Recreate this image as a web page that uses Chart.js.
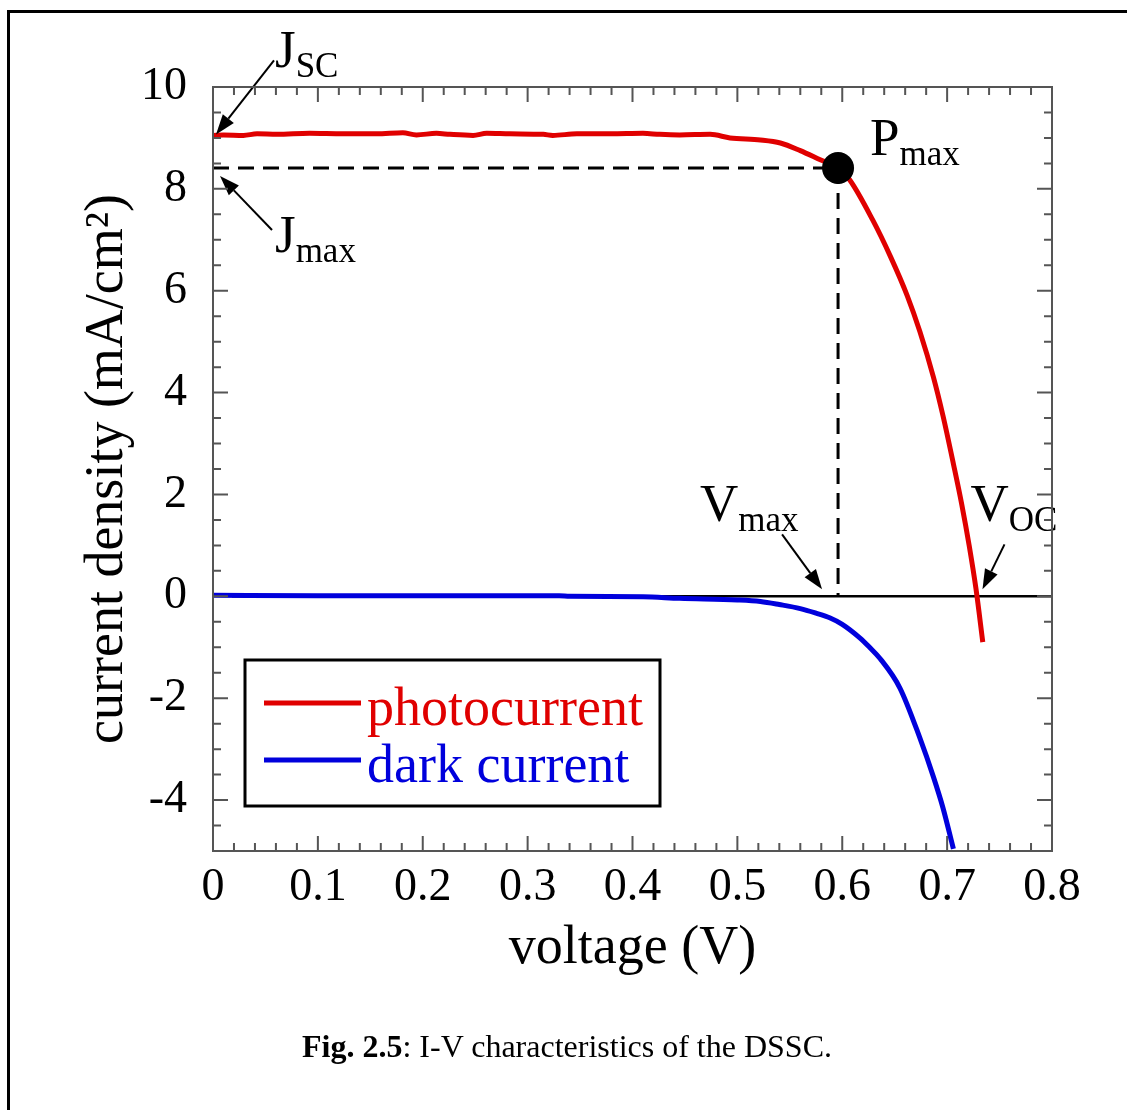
<!DOCTYPE html>
<html>
<head>
<meta charset="utf-8">
<title>I-V characteristics of the DSSC</title>
<script src="https://cdn.jsdelivr.net/npm/chart.js@4.4.1/dist/chart.umd.min.js"></script>
<style>
html,body{margin:0;padding:0;background:#fff;overflow:hidden}
#wrap{position:relative;width:1127px;height:1110px}
#frame{position:absolute;left:7px;top:10px;width:1300px;height:1300px;border:3px solid #000;box-sizing:border-box}
#chart{position:absolute;left:0;top:0}
#cap{position:absolute;left:0;width:1134px;top:1030px;text-align:center;font:32px/32px 'Liberation Serif',serif;color:#000}
</style>
</head>
<body>
<div id="wrap">
  <div id="frame"></div>
  <canvas id="chart" width="1127" height="1110"></canvas>
  <div id="cap"><b>Fig. 2.5</b>: I-V characteristics of the DSSC.</div>
</div>
<script>
/* ---------- data ---------- */
const photoV = [0,0.01,0.029,0.042,0.061,0.092,0.124,0.156,0.181,0.194,0.213,0.226,0.248,0.261,0.283,0.315,0.324,0.347,0.379,0.41,0.426,0.445,0.474,0.493,0.522,0.541,0.56,0.579,0.596,0.607,0.629,0.646,0.662,0.674,0.687,0.696,0.706,0.714,0.721,0.7275,0.734];
const photoJ = [9.05,9.06,9.05,9.08,9.07,9.09,9.08,9.08,9.1,9.06,9.09,9.07,9.05,9.09,9.08,9.07,9.05,9.08,9.08,9.09,9.07,9.06,9.07,9.0,8.96,8.9,8.75,8.57,8.41,8.18,7.39,6.67,5.9,5.2,4.3,3.55,2.6,1.8,1.0,0.15,-0.9];

const darkV = [0,0.1,0.2,0.33,0.34,0.41,0.445,0.5,0.522,0.54,0.56,0.575,0.588,0.6,0.617,0.626,0.636,0.655,0.674,0.687,0.696,0.706];
const darkJ = [0.02,0.01,0.01,0.01,0.0,-0.01,-0.04,-0.07,-0.1,-0.16,-0.24,-0.33,-0.42,-0.55,-0.82,-1.0,-1.22,-1.8,-2.78,-3.55,-4.15,-4.96];

const zeroLineV = [0.018,0.8];
const vMax = 0.596, jMax = 8.41;   // maximum power point
const vOc = 0.728;                 // open circuit voltage

const xTicks = [0,0.1,0.2,0.3,0.4,0.5,0.6,0.7,0.8];
const xTickLabels = ['0','0.1','0.2','0.3','0.4','0.5','0.6','0.7','0.8'];
const yTicks = [-4,-2,0,2,4,6,8,10];
const yTickLabels = ['-4','-2','0','2','4','6','8','10'];

const RED = '#e00000', BLUE = '#0000dc';
const SERIF = '"Liberation Serif", "Times New Roman", serif';
Chart.defaults.font.family = SERIF;
Chart.defaults.color = '#000';

const pts = (xs, ys) => xs.map((v,i)=>({x:v, y:ys[i]}));

/* ---------- frame with inward ticks on all four sides ---------- */
const frameTicks = {
  id:'frameTicks',
  afterDatasetsDraw(chart){
    const {ctx, chartArea:a, scales:{x,y}} = chart;
    ctx.save();
    ctx.strokeStyle='#555'; ctx.lineWidth=2;
    ctx.beginPath();
    for(let i=0;i<=40;i++){
      const px=x.getPixelForValue(i*0.02), L=i%5===0?15:8;
      ctx.moveTo(px,a.bottom); ctx.lineTo(px,a.bottom-L);
      ctx.moveTo(px,a.top); ctx.lineTo(px,a.top+L);
    }
    for(let i=0;i<=30;i++){
      const v=-5+i*0.5, py=y.getPixelForValue(v), L=(v%2===0)?15:8;
      ctx.moveTo(a.left,py); ctx.lineTo(a.left+L,py);
      ctx.moveTo(a.right,py); ctx.lineTo(a.right-L,py);
    }
    ctx.stroke();
    ctx.strokeRect(a.left,a.top,a.right-a.left,a.bottom-a.top);
    ctx.restore();
  }
};

/* ---------- arrows and subscripted labels ---------- */
function arrow(ctx,x0,y0,x1,y1){
  const ang=Math.atan2(y1-y0,x1-x0), L=20, W=7;
  const bx=x1-L*Math.cos(ang), by=y1-L*Math.sin(ang);
  ctx.beginPath(); ctx.moveTo(x0,y0); ctx.lineTo(bx,by); ctx.stroke();
  ctx.beginPath(); ctx.moveTo(x1,y1);
  ctx.lineTo(bx+W*Math.sin(ang), by-W*Math.cos(ang));
  ctx.lineTo(bx-W*Math.sin(ang), by+W*Math.cos(ang));
  ctx.closePath(); ctx.fill();
}
function subLabel(ctx,main,sub,x,y){
  ctx.font='53px '+SERIF; ctx.fillText(main,x,y);
  const w=ctx.measureText(main).width;
  ctx.font='35px '+SERIF; ctx.fillText(sub,x+w,y+10);
}
const annotations = {
  id:'annotations',
  afterDatasetsDraw(chart){
    const {ctx, scales:{x,y}} = chart;
    const P = (vx,vy)=>[x.getPixelForValue(vx), y.getPixelForValue(vy)];
    const [jsx,jsy] = P(photoV[0],photoJ[0]);
    const [jmx,jmy] = P(0,jMax);
    const [pmx,pmy] = P(vMax,jMax);
    const [vmx,vmy] = P(vMax,0);
    const [vox,voy] = P(vOc,0);
    ctx.save();
    ctx.fillStyle='#000'; ctx.strokeStyle='#000'; ctx.lineWidth=2;
    ctx.textBaseline='alphabetic'; ctx.textAlign='left';
    arrow(ctx,jsx+61,jsy-75,jsx+3,jsy-1);
    subLabel(ctx,'J','SC',jsx+62,jsy-68);
    arrow(ctx,jmx+59,jmy+62,jmx+7,jmy+8);
    subLabel(ctx,'J','max',jmx+62,jmy+84);
    subLabel(ctx,'P','max',pmx+32,pmy-13);
    arrow(ctx,vmx-56,vmy-62,vmx-16,vmy-7);
    subLabel(ctx,'V','max',vmx-138,vmy-75);
    arrow(ctx,vox+28,voy-52,vox+6,voy-7);
    subLabel(ctx,'V','OC',vox-6,voy-75);
    ctx.restore();
  }
};

/* ---------- boxed legend inside the plot ---------- */
const boxLegend = {
  id:'boxLegend',
  afterDraw(chart){
    const {ctx, chartArea:a} = chart;
    const items = chart.data.datasets.filter(d=>d.inLegend);
    const L=a.left+32, R=a.left+447, T=a.top+573, B=a.bottom-45;
    ctx.save();
    ctx.fillStyle='#fff'; ctx.fillRect(L,T,R-L,B-T);
    ctx.strokeStyle='#000'; ctx.lineWidth=3; ctx.strokeRect(L,T,R-L,B-T);
    ctx.font='54px '+SERIF; ctx.textBaseline='alphabetic'; ctx.textAlign='left';
    items.forEach((d,i)=>{
      const ly=T+43+i*57;
      ctx.strokeStyle=d.borderColor; ctx.lineWidth=5;
      ctx.beginPath(); ctx.moveTo(L+19,ly); ctx.lineTo(L+116,ly); ctx.stroke();
      ctx.fillStyle=d.borderColor; ctx.fillText(d.label,L+122,ly+22);
    });
    ctx.restore();
  }
};

new Chart(document.getElementById('chart'),{
  type:'scatter',
  data:{datasets:[
    {label:'Pmax', data:[{x:vMax,y:jMax}], pointRadius:16, pointBackgroundColor:'#000', pointBorderWidth:0, showLine:false, order:0},
    {label:'photocurrent', inLegend:true, data:pts(photoV,photoJ), borderColor:RED, borderWidth:5, pointRadius:0, showLine:true, cubicInterpolationMode:'monotone', order:1},
    {label:'dark current', inLegend:true, data:pts(darkV,darkJ), borderColor:BLUE, borderWidth:5, pointRadius:0, showLine:true, cubicInterpolationMode:'monotone', order:2},
    {label:'zero', data:zeroLineV.map(v=>({x:v,y:0})), borderColor:'#000', borderWidth:2.5, pointRadius:0, showLine:true, order:3},
    {label:'Jmax line', data:[{x:0,y:jMax},{x:vMax,y:jMax}], borderColor:'#000', borderWidth:3, borderDash:[16,9], pointRadius:0, showLine:true, order:4},
    {label:'Vmax line', data:[{x:vMax,y:jMax},{x:vMax,y:0}], borderColor:'#000', borderWidth:3, borderDash:[16,9], pointRadius:0, showLine:true, order:4}
  ]},
  options:{
    responsive:false, animation:false,
    layout:{padding:{left:0,top:87,right:75,bottom:0}},
    plugins:{legend:{display:false}, tooltip:{enabled:false}},
    scales:{
      x:{type:'linear', min:0, max:0.8,
        grid:{display:false, drawTicks:false, tickLength:0}, border:{display:false},
        afterBuildTicks:s=>{s.ticks=xTicks.map(v=>({value:v}));},
        afterFit:s=>{s.height=259;},
        ticks:{padding:9, font:{size:46}, color:'#000', maxRotation:0, autoSkip:false,
          callback:(v,i)=>xTickLabels[i]},
        title:{display:true, text:'voltage (V)', font:{size:54}, color:'#000', padding:{top:0,bottom:129}}
      },
      y:{type:'linear', min:-5, max:10,
        grid:{display:false, drawTicks:false, tickLength:0}, border:{display:false},
        afterBuildTicks:s=>{s.ticks=yTicks.map(v=>({value:v}));},
        afterFit:s=>{s.width=213;},
        ticks:{padding:26, font:{size:46}, color:'#000', autoSkip:false,
          callback:(v,i)=>yTickLabels[i]},
        title:{display:true, text:'current density (mA/cm²)', font:{size:54}, color:'#000', padding:{top:75,bottom:0}}
      }
    }
  },
  plugins:[annotations, frameTicks, boxLegend]
});
</script>
</body>
</html>
